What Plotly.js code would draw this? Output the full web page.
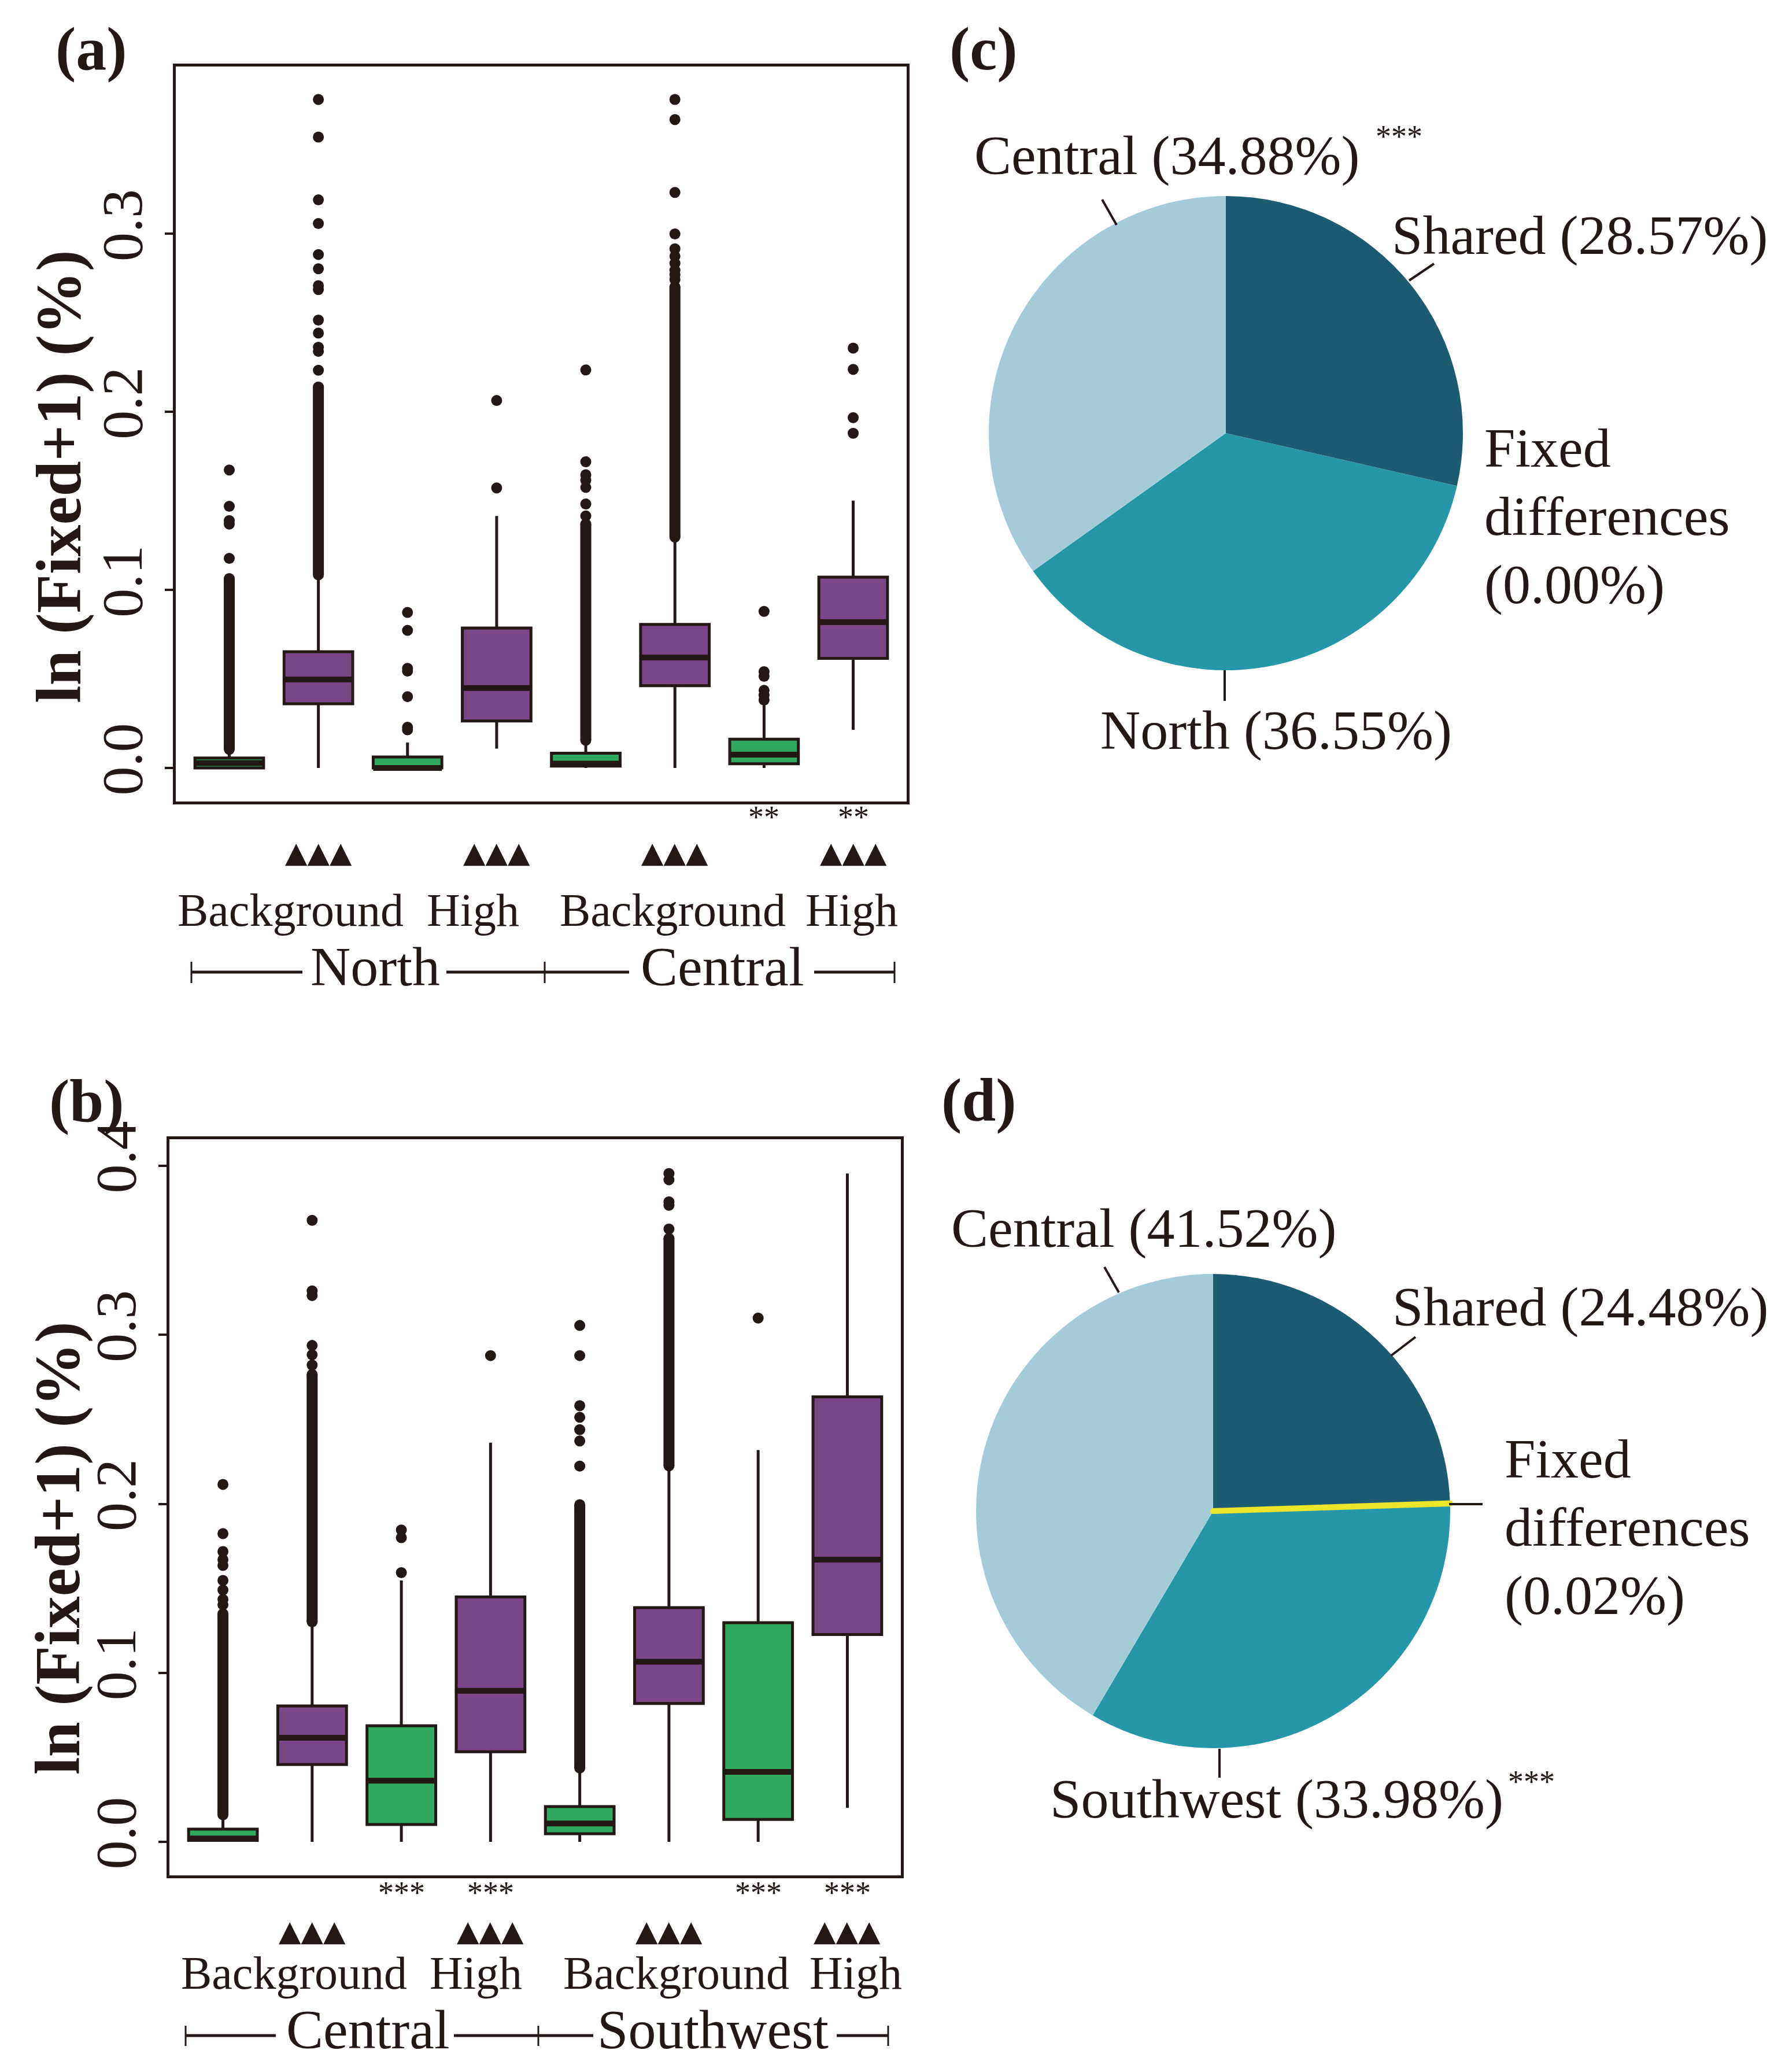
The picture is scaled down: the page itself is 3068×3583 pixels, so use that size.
<!DOCTYPE html>
<html>
<head>
<meta charset="utf-8">
<script src="https://cdn.plot.ly/plotly-3.0.1.min.js"></script>
<style>
  html, body { margin: 0; padding: 0; background: #ffffff; }
  #plot { width: 3068px; height: 3583px; }
</style>
</head>
<body>
<div id="plot"></div>
<script>
// ---------------- DATA ----------------
const boxPositions = [1, 2, 3, 4, 5, 6, 7, 8];
const boxKind = ['green', 'purple', 'green', 'purple', 'green', 'purple', 'green', 'purple'];

// Panel (a): North / Central
const a_q1     = [0.0000, 0.0361, 0.0000, 0.0264, 0.0011, 0.0462, 0.0024, 0.0616];
const a_median = [0.0028, 0.0497, 0.0000, 0.0449, 0.0025, 0.0621, 0.0075, 0.0820];
const a_q3     = [0.0056, 0.0653, 0.0062, 0.0786, 0.0083, 0.0807, 0.0162, 0.1072];
const a_low    = [0.0000, 0.0000, 0.0000, 0.0109, 0.0000, 0.0000, 0.0000, 0.0215];
const a_high   = [0.0105, 0.1085, 0.0143, 0.1416, 0.0143, 0.1290, 0.0356, 0.1502];
const a_denseOutliers = [[0.0105, 0.1064], [0.1085, 0.2140], null, null, [0.0156, 0.1370], [0.1297, 0.2703], null, null];
const a_outliers = [
  [0.1178, 0.1370, 0.1390, 0.1470, 0.1674],
  [0.2234, 0.2340, 0.2363, 0.2443, 0.2516, 0.2687, 0.2709, 0.2804, 0.2884, 0.3058, 0.3191, 0.3544, 0.3755],
  [0.0215, 0.0229, 0.0401, 0.0544, 0.0560, 0.0773, 0.0874],
  [0.1573, 0.2064],
  [0.1416, 0.1483, 0.1576, 0.1616, 0.1647, 0.1720, 0.2236],
  [0.2743, 0.2770, 0.2796, 0.2835, 0.2875, 0.2916, 0.3000, 0.3233, 0.3642, 0.3755],
  [0.0382, 0.0409, 0.0436, 0.0515, 0.0541, 0.0880],
  [0.1880, 0.1968, 0.2239, 0.2358]
];
const a_yTicks = [0.0, 0.1, 0.2, 0.3];
const a_tickText = ['0.0', '0.1', '0.2', '0.3'];
const a_groupLabels = ['North', 'Central'];
const a_levelLabels = ['Background', 'High', 'Background', 'High'];
const a_stars = ['', '', '', '', '', '', '**', '**'];
const a_triangles = ['', '▲▲▲', '', '▲▲▲', '', '▲▲▲', '', '▲▲▲'];

// Panel (b): Central / Southwest
const b_q1     = [0.0009, 0.0458, 0.0103, 0.0533, 0.0048, 0.0819, 0.0133, 0.1227];
const b_median = [0.0020, 0.0616, 0.0362, 0.0894, 0.0109, 0.1066, 0.0414, 0.1670];
const b_q3     = [0.0076, 0.0804, 0.0687, 0.1449, 0.0209, 0.1386, 0.1297, 0.2633];
const b_low    = [0.0000, 0.0000, 0.0000, 0.0000, 0.0000, 0.0000, 0.0000, 0.0201];
const b_high   = [0.0153, 0.1300, 0.1547, 0.2362, 0.0424, 0.2220, 0.2318, 0.3954];
const b_denseOutliers = [[0.0160, 0.1350], [0.1302, 0.2766], null, null, [0.0437, 0.1995], [0.2225, 0.3570], null, null];
const b_outliers = [
  [0.1403, 0.1435, 0.1490, 0.1547, 0.1636, 0.1670, 0.1718, 0.1824, 0.2115],
  [0.2821, 0.2882, 0.2937, 0.3232, 0.3260, 0.3677],
  [0.1593, 0.1800, 0.1845],
  [0.2877],
  [0.2223, 0.2372, 0.2439, 0.2512, 0.2581, 0.2877, 0.3055],
  [0.3626, 0.3766, 0.3787, 0.3917, 0.3954],
  [0.3099],
  []
];
const b_yTicks = [0.0, 0.1, 0.2, 0.3, 0.4];
const b_tickText = ['0.0', '0.1', '0.2', '0.3', '0.4'];
const b_groupLabels = ['Central', 'Southwest'];
const b_levelLabels = ['Background', 'High', 'Background', 'High'];
const b_stars = ['', '', '***', '***', '', '', '***', '***'];
const b_triangles = ['', '▲▲▲', '', '▲▲▲', '', '▲▲▲', '', '▲▲▲'];

// Pie (c) and (d)
const pieC_labels = ['Shared', 'Fixed differences', 'North', 'Central'];
const pieC_values = [28.57, 0.00, 36.55, 34.88];
const pieD_labels = ['Shared', 'Fixed differences', 'Southwest', 'Central'];
const pieD_values = [24.48, 0.02, 33.98, 41.52];

// ---------------- STYLE ----------------
const W = 3068, H = 3583;
const INK = '#231815';
const GREEN = '#31a860';
const PURPLE = '#7b4688';
const SERIF = 'Liberation Serif, Times New Roman, serif';
const pieColors = { 'Shared': '#1d5b73', 'Fixed differences': '#ece62b', 'North': '#2597a9', 'Southwest': '#2597a9', 'Central': '#a3cbd8' };
const BOXW = 0.77;

const px = v => v / W;
const py = v => 1 - v / H;

function pick(arr, kind) { return arr.filter((_, i) => boxKind[i] === kind); }

function panelTraces(xa, ya, q1, med, q3, lo, hi, dense, outl) {
  const traces = [];
  [['green', GREEN], ['purple', PURPLE]].forEach(([kind, col]) => {
    traces.push({
      type: 'box', xaxis: xa, yaxis: ya,
      x: pick(boxPositions, kind),
      q1: pick(q1, kind), median: pick(med, kind), q3: pick(q3, kind),
      lowerfence: pick(lo, kind), upperfence: pick(hi, kind),
      width: BOXW, whiskerwidth: 0, boxpoints: false,
      fillcolor: col, line: { color: INK, width: 5 },
      hoverinfo: 'skip', showlegend: false
    });
  });
  // thick median bars
  const mx = [], my = [];
  boxPositions.forEach((p, i) => { mx.push(p - BOXW / 2, p + BOXW / 2, null); my.push(med[i], med[i], null); });
  traces.push({ type: 'scatter', mode: 'lines', xaxis: xa, yaxis: ya, x: mx, y: my,
    line: { color: INK, width: 10 }, hoverinfo: 'skip', showlegend: false });
  // dense outlier runs
  const dx = [], dy = [], ex = [], ey = [];
  boxPositions.forEach((p, i) => {
    if (dense[i]) { dx.push(p, p, null); dy.push(dense[i][0], dense[i][1], null); ex.push(p, p); ey.push(dense[i][0], dense[i][1]); }
  });
  traces.push({ type: 'scatter', mode: 'lines', xaxis: xa, yaxis: ya, x: dx, y: dy,
    line: { color: INK, width: 19 }, hoverinfo: 'skip', showlegend: false });
  // individual outliers
  const ox = [], oy = [];
  boxPositions.forEach((p, i) => { outl[i].forEach(v => { ox.push(p); oy.push(v); }); });
  traces.push({ type: 'scatter', mode: 'markers', xaxis: xa, yaxis: ya, x: ox.concat(ex), y: oy.concat(ey),
    marker: { color: INK, size: 19, line: { width: 0 } }, hoverinfo: 'skip', showlegend: false });
  return traces;
}

function pieTrace(labels, values, domX, domY) {
  // draw the tiny "Fixed differences" slice last so its outline stays on top
  const order = [2, 3, 0, 1];
  const lab = order.map(i => labels[i]);
  const val = order.map(i => values[i]);
  const total = values.reduce((s, v) => s + v, 0);
  const rot = (values[0] + values[1]) / total * 360;
  const isThin = (l, v) => l === 'Fixed differences' && v > 0;
  return {
    type: 'pie', labels: lab, values: val, sort: false, direction: 'clockwise', rotation: rot,
    domain: { x: domX, y: domY },
    marker: {
      colors: lab.map(l => pieColors[l]),
      line: { color: lab.map((l, i) => isThin(l, val[i]) ? pieColors[l] : 'rgba(0,0,0,0)'),
              width: lab.map((l, i) => isThin(l, val[i]) ? 10 : 0) }
    },
    textinfo: 'none', hoverinfo: 'skip', showlegend: false
  };
}

const data = []
  .concat(panelTraces('x', 'y', a_q1, a_median, a_q3, a_low, a_high, a_denseOutliers, a_outliers))
  .concat(panelTraces('x2', 'y2', b_q1, b_median, b_q3, b_low, b_high, b_denseOutliers, b_outliers))
  .concat([pieTrace(pieC_labels, pieC_values, [px(1710), px(2530)], [py(1159), py(339)])])
  .concat([pieTrace(pieD_labels, pieD_values, [px(1688), px(2508)], [py(3023), py(2203)])]);

function xAxis(dom, anchor) {
  return { domain: dom, anchor: anchor, range: [0.4, 8.6], showticklabels: false, ticks: '',
    showgrid: false, zeroline: false, showline: true, mirror: true, linewidth: 5, linecolor: INK, fixedrange: true };
}
function yAxis(dom, anchor, range, tv, tt) {
  return { domain: dom, anchor: anchor, range: range, tickmode: 'array', tickvals: tv, ticktext: tt,
    ticks: 'outside', ticklen: 14, tickwidth: 4, tickcolor: INK, tickangle: -90,
    tickfont: { family: SERIF, size: 100, color: INK },
    showgrid: false, zeroline: false, showline: true, mirror: true, linewidth: 5, linecolor: INK, fixedrange: true };
}

const annotations = [];
const shapes = [];
function txt(text, x, y, size, opts) {
  annotations.push(Object.assign({ text: text, x: px(x), y: py(y), xref: 'paper', yref: 'paper',
    showarrow: false, xanchor: 'center', yanchor: 'middle',
    font: { family: SERIF, size: size, color: INK } }, opts || {}));
}
function seg(x0, y0, x1, y1, w) {
  shapes.push({ type: 'line', xref: 'paper', yref: 'paper', x0: px(x0), y0: py(y0), x1: px(x1), y1: py(y1),
    line: { color: INK, width: w || 4 } });
}

// panel letters
txt('<b>(a)</b>', 158, 84, 106);
txt('<b>(b)</b>', 150, 1904, 106);
txt('<b>(c)</b>', 1701, 84, 106);
txt('<b>(d)</b>', 1693, 1902, 106);

// y titles
txt('<b>ln (Fixed+1) (%)</b>', 102, 824, 110, { textangle: -90 });
txt('<b>ln (Fixed+1) (%)</b>', 100, 2677, 110, { textangle: -90 });

// below-axis marks for box panels
function markRow(xref, arr, y, size, family) {
  boxPositions.forEach((p, i) => {
    if (!arr[i]) return;
    annotations.push({ text: arr[i], x: p, y: py(y), xref: xref, yref: 'paper', showarrow: false,
      xanchor: 'center', yanchor: 'middle', borderpad: 0, font: { family: family, size: size, color: INK } });
  });
}
markRow('x', a_stars, 1413, 54, SERIF);
markRow('x', a_triangles, 1474, 50, 'DejaVu Sans');
markRow('x2', b_stars, 3273, 54, SERIF);
markRow('x2', b_triangles, 3339, 50, 'DejaVu Sans');

// level labels
[502, 818, 1163, 1473].forEach((x, i) => txt(a_levelLabels[i], x, 1574, 80));
[508, 823, 1169, 1480].forEach((x, i) => txt(b_levelLabels[i], x, 3412, 80));

// group brackets
txt(a_groupLabels[0], 649, 1671, 96);
txt(a_groupLabels[1], 1249, 1671, 96);
[[331, 523], [772, 1088], [1408, 1547]].forEach(s => seg(s[0], 1681, s[1], 1681, 5));
[331, 942, 1547].forEach(x => seg(x, 1663, x, 1700, 3));

txt(b_groupLabels[0], 636, 3509, 96);
txt(b_groupLabels[1], 1233, 3509, 96);
[[321, 477], [785, 1026], [1447, 1536]].forEach(s => seg(s[0], 3520, s[1], 3520, 5));
[321, 931, 1536].forEach(x => seg(x, 3503, x, 3538, 3));

// pie labels
const pct = v => '(' + v.toFixed(2) + '%)';
txt(pieC_labels[3] + ' ' + pct(pieC_values[3]), 2018, 269, 96);
txt('***', 2419, 236, 54);
txt(pieC_labels[0] + ' ' + pct(pieC_values[0]), 2732, 407, 96);
txt('Fixed', 2565, 774, 96, { xanchor: 'left' });
txt('differences', 2565, 892, 96, { xanchor: 'left' });
txt(pct(pieC_values[1]), 2565, 1010, 96, { xanchor: 'left' });
txt(pieC_labels[2] + ' ' + pct(pieC_values[2]), 2207, 1263, 96);
seg(1906, 345, 1931, 389);
seg(2437, 485, 2480, 456);
seg(2118, 1159, 2118, 1212);

txt(pieD_labels[3] + ' ' + pct(pieD_values[3]), 1978, 2123, 96);
txt(pieD_labels[0] + ' ' + pct(pieD_values[0]), 2733, 2259, 96);
txt('Fixed', 2600, 2522, 96, { xanchor: 'left' });
txt('differences', 2600, 2640, 96, { xanchor: 'left' });
txt(pct(pieD_values[1]), 2600, 2758, 96, { xanchor: 'left' });
txt(pieD_labels[2] + ' ' + pct(pieD_values[2]), 2208, 3110, 96);
txt('***', 2648, 3081, 54);
seg(1910, 2191, 1935, 2235);
seg(2406, 2344, 2448, 2312);
seg(2506, 2601, 2564, 2601);
seg(2109, 3024, 2109, 3074);

const layout = {
  width: W, height: H, margin: { l: 0, r: 0, t: 0, b: 0, pad: 0 },
  paper_bgcolor: '#ffffff', plot_bgcolor: '#ffffff',
  showlegend: false, boxmode: 'overlay',
  xaxis: xAxis([px(304), px(1568)], 'y'),
  yaxis: yAxis([py(1386), py(115)], 'x', [-0.0188, 0.394], a_yTicks, a_tickText),
  xaxis2: xAxis([px(293), px(1558)], 'y2'),
  yaxis2: yAxis([py(3243), py(1970)], 'x2', [-0.0198, 0.4157], b_yTicks, b_tickText),
  annotations: annotations,
  shapes: shapes
};

Plotly.newPlot('plot', data, layout, { staticPlot: true, displayModeBar: false });
</script>
</body>
</html>
